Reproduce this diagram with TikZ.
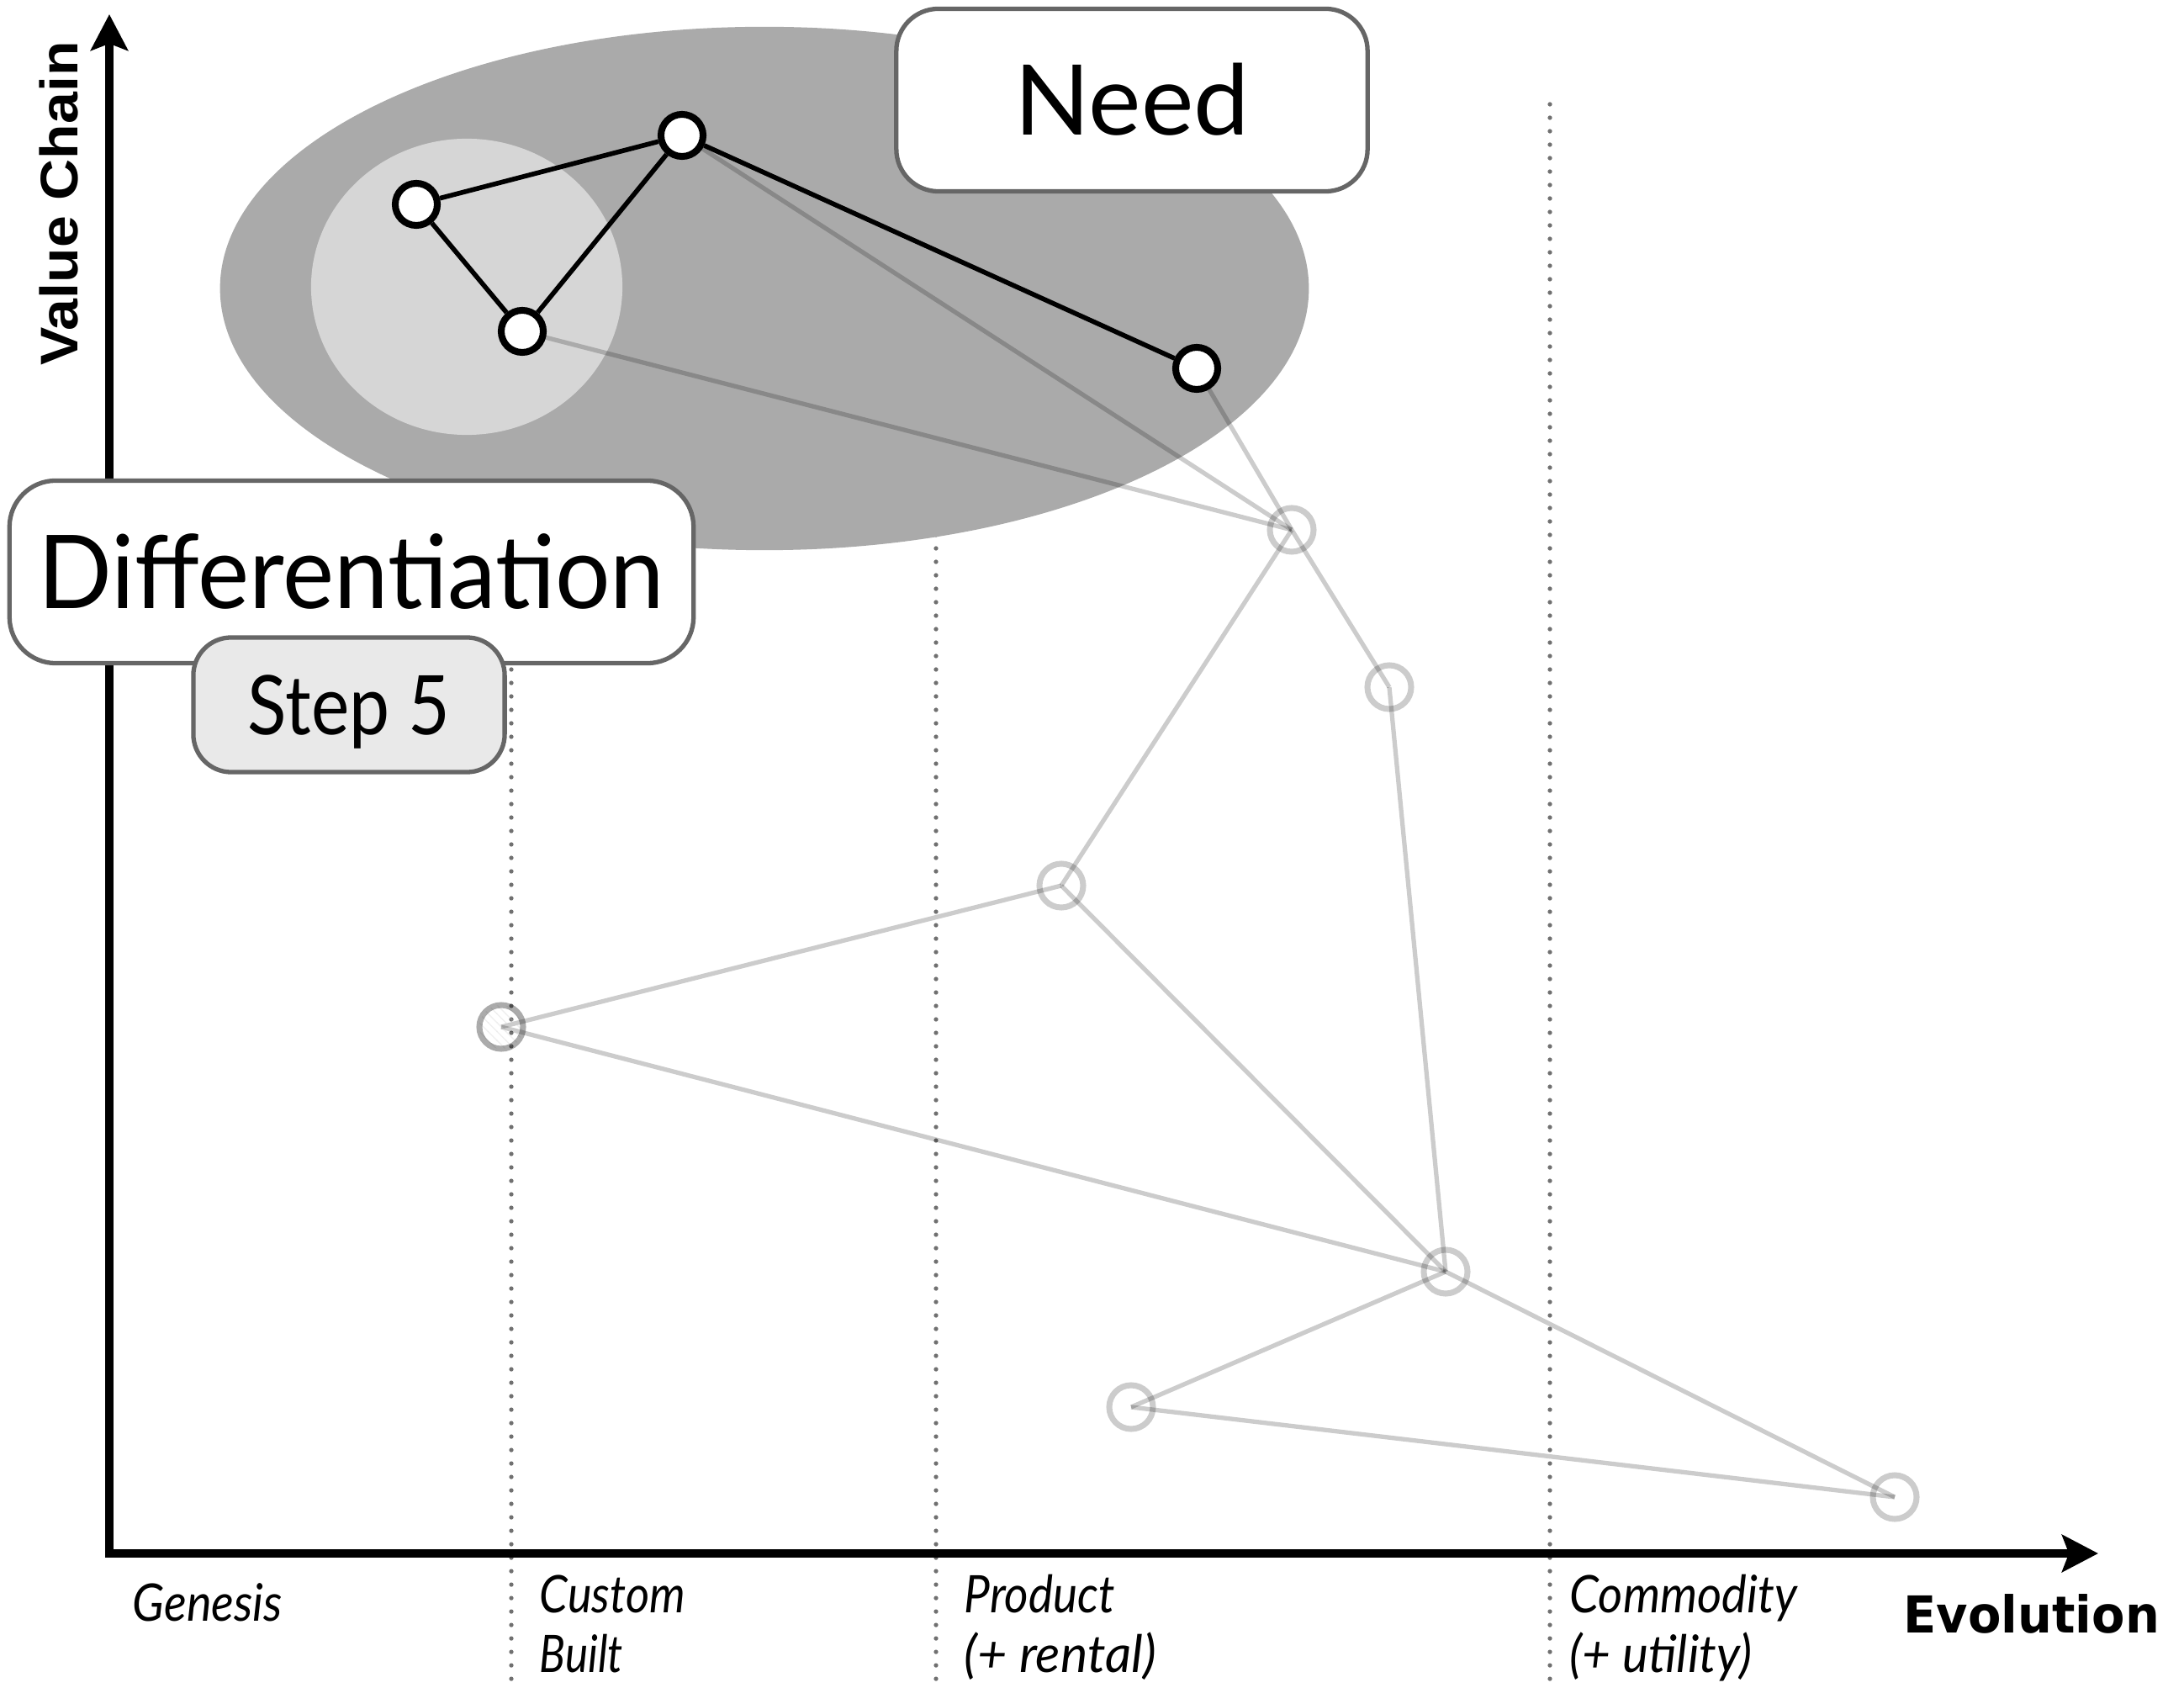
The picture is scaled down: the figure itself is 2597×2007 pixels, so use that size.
\documentclass[tikz,border=0pt]{standalone}
\usepackage{fontspec}
\setmainfont{Lato}
\newfontfamily\chainfont{Liberation Sans}
\newfontfamily\evofont{DejaVu Sans}
\usetikzlibrary{arrows.meta,patterns}
\pgfdeclarelayer{back}
\pgfdeclarelayer{links}
\pgfsetlayers{back,links,main}
\newcommand\fitw[2]{\resizebox{#1}{\height}{#2}}
\definecolor{needgray}{HTML}{AAAAAA}
\definecolor{diffgray}{HTML}{D6D6D6}
\definecolor{boxline}{HTML}{666666}
\definecolor{stepgray}{HTML}{E9E9E9}
\definecolor{dotgray}{HTML}{707070}

\begin{document}
\begin{tikzpicture}[x=0.01cm,y=-0.01cm,
  stage/.style={draw=dotgray,line width=1.5pt,line cap=round,dash pattern=on 0pt off 4.55pt},
  axisline/.style={line width=3.1pt,line join=miter,
    {Stealth[length=12.2pt,width=12.5pt,inset=2.3pt]}-{Stealth[length=12.2pt,width=12.5pt,inset=2.3pt]}},
  labelbox/.style={draw=boxline,line width=1.5pt,fill=white,inner sep=0pt,text depth=0pt},
  keynode/.style={circle,draw=black,fill=white,line width=2.3pt,minimum size=0.5cm,inner sep=0pt},
  keyedge/.style={draw=black,line width=1.6pt},
  fadenode/.style={circle,draw=black,draw opacity=0.2,line width=2pt,minimum size=0.52cm,inner sep=0pt},
  fadeedge/.style={draw=black,draw opacity=0.2,line width=1.5pt},
  stagelabel/.style={font=\fontsize{17.5}{20}\selectfont\itshape,anchor=base west,inner sep=0pt},
]
\useasboundingbox (0,0) rectangle (2597,2007);

% ---- background: stage separators, axes, need / differentiation areas
\begin{pgfonlayer}{back}
  \foreach \xx in {608,1113,1843}
    \draw[stage] (\xx,124) -- (\xx,2000);
  \coordinate (origin) at (130,1847);
  \coordinate (ytip) at (130,17);
  \coordinate (xtip) at (2495,1847);
  \draw[axisline] (ytip) -- (origin) -- (xtip);
  \fill[needgray] (909,343) ellipse [x radius=6.47cm, y radius=3.11cm];
  \fill[diffgray] (555,341) ellipse [x radius=1.85cm, y radius=1.76cm];
\end{pgfonlayer}

% ---- components further down the chain (faded)
\node[fadenode] (e) at (1536,630) {};
\node[fadenode] (f) at (1652,817) {};
\node[fadenode] (g) at (1262,1053) {};
\node[fadenode,draw opacity=0.33,pattern=north west lines,pattern color=black!18] (h) at (596,1221) {};
\node[fadenode] (i) at (1719,1512) {};
\node[fadenode] (j) at (1345,1673) {};
\node[fadenode] (k) at (2253,1780) {};

% ---- components of the need
\node[keynode] (a) at (495,243) {};
\node[keynode] (b) at (811,161) {};
\node[keynode] (c) at (621,394) {};
\node[keynode] (d) at (1423,438) {};

\begin{pgfonlayer}{links}
  \draw[fadeedge] (b.center) -- (e.center);
  \draw[fadeedge] (c.center) -- (e.center);
  \draw[fadeedge] (d.center) -- (e.center);
  \draw[fadeedge] (e.center) -- (f.center);
  \draw[fadeedge] (e.center) -- (g.center);
  \draw[fadeedge] (g.center) -- (h.center);
  \draw[fadeedge] (g.center) -- (i.center);
  \draw[fadeedge] (h.center) -- (i.center);
  \draw[fadeedge] (f.center) -- (i.center);
  \draw[fadeedge] (i.center) -- (j.center);
  \draw[fadeedge] (i.center) -- (k.center);
  \draw[fadeedge] (j.center) -- (k.center);
  \draw[keyedge] (a) -- (b);
  \draw[keyedge] (a) -- (c);
  \draw[keyedge] (c) -- (b);
  \draw[keyedge] (b) -- (d);
\end{pgfonlayer}

% ---- titles
\node[labelbox,rounded corners=0.5cm,minimum width=5.6cm,minimum height=2.17cm,text height=0.83cm,
      font=\fontsize{33}{38}\selectfont] (need) at (1346,119) {\fitw{2.79cm}{Need}};
\node[labelbox,rounded corners=0.55cm,minimum width=8.13cm,minimum height=2.17cm,text height=0.87cm,
      font=\fontsize{34.5}{40}\selectfont] (diff) at (418,680) {\fitw{7.44cm}{Differentiation}};
\node[labelbox,fill=stepgray,rounded corners=0.45cm,minimum width=3.7cm,minimum height=1.6cm,text height=0.70cm,
      font=\fontsize{27.8}{32}\selectfont] (step) at (415,838) {\fitw{2.40cm}{Step 5}};

% ---- axis captions
\node[rotate=90,anchor=base,inner sep=0pt,font=\chainfont\bfseries\fontsize{17.9}{20}\selectfont]
  (chain) at (92,242) {\fitw{3.85cm}{Value Chain}};
\node[anchor=base west,inner sep=0pt,font=\evofont\bfseries\fontsize{17.2}{20}\selectfont]
  (evolution) at (2263,1941) {\fitw{3.04cm}{Evolution}};

% ---- evolution stages
\node[stagelabel] (genesis) at (157,1927) {\fitw{1.78cm}{Genesis}};
\node[stagelabel] (custom) at (641,1917) {\fitw{1.73cm}{Custom}};
\node[stagelabel] (built) at (641,1988) {\fitw{0.99cm}{Built}};
\node[stagelabel] (product) at (1146,1917) {\fitw{1.79cm}{Product}};
\node[stagelabel] (rental) at (1146,1988) {\fitw{2.28cm}{(+ rental)}};
\node[stagelabel] (commodity) at (1866,1917) {\fitw{2.70cm}{Commodity}};
\node[stagelabel] (utility) at (1866,1988) {\fitw{2.17cm}{(+ utility)}};
\end{tikzpicture}
\end{document}
